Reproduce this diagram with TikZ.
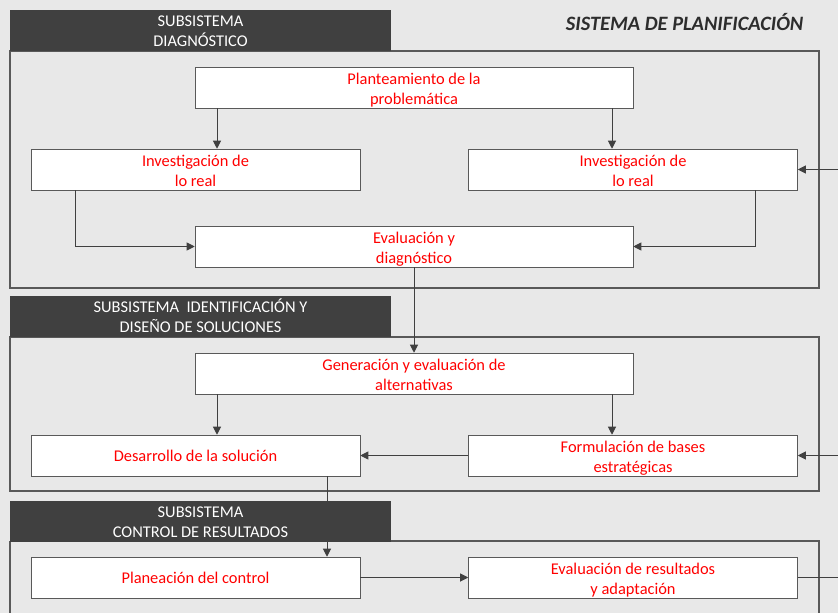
\documentclass[tikz,border=0pt]{standalone}
\usepackage{fontspec}
\setmainfont{Carlito}
\usepackage{tikz}
\usetikzlibrary{arrows.meta, calc}

\definecolor{fondo}{HTML}{E8E8E8}
\definecolor{oscuro}{HTML}{404040}
\definecolor{marco}{HTML}{595959}
\definecolor{rojo}{HTML}{FF0000}

\begin{document}
\begin{tikzpicture}[
      x=0.75pt, y=-0.75pt,
      txt/.style={font=\fontsize{12.3}{15}\selectfont, align=center},
      box/.style={txt, draw=marco, fill=white, text=rojo, minimum width=328.5pt, minimum height=30.75pt, inner sep=0pt},
      wide/.style={box, text height=26.5pt, text depth=0.8pt},
      side/.style={wide, minimum width=246.75pt},
      single/.style={box, minimum width=246.75pt},
      head/.style={txt, fill=oscuro, text=white, minimum width=285.75pt, minimum height=30.75pt, inner sep=0pt,
        text height=25pt, text depth=0.5pt},
      frame/.style={draw=marco, line width=0.8pt},
      arr/.style={-{Triangle[length=6pt,width=6pt]}, draw=oscuro, line width=0.75pt},
      line/.style={draw=oscuro, line width=0.75pt}
    ]

% Background and page size
      \fill[fondo] (0,0) rectangle (838,613);
      \useasboundingbox (0,0) rectangle (838,613);

% Title
      \node[anchor=east, text=oscuro!70!black, font=\fontsize{15.3}{18}\selectfont\bfseries\itshape] (titulo) at (808,22) {SISTEMA DE PLANIFICACIÓN};

% Subsystem frames
      \draw[frame] (10,51) rectangle (819,288);
      \draw[frame] (10,337) rectangle (819,491);
      \draw[frame] (10,541) -- (819,541) -- (819,620);
      \draw[frame] (10,541) -- (10,620);

% Subsystem headers
      \node[head] (hdiag) at (200.5,30.5) {SUBSISTEMA\\DIAGNÓSTICO};
      \node[head] (hsol) at (200.5,316.5) {SUBSISTEMA\ \ IDENTIFICACIÓN Y\\DISEÑO DE SOLUCIONES};
      \node[head] (hctrl) at (200.5,521) {SUBSISTEMA\\CONTROL DE RESULTADOS};

% Diagnostic
      \node[wide] (plant) at (414,87.5) {Planteamiento de la\\problemática};
      \node[side] (invL) at (195.5,169.5) {Investigación de\\lo real};
      \node[side] (invR) at (633,169.5) {Investigación de\\lo real};
      \node[wide] (evald) at (414,246.5) {Evaluación y\\diagnóstico};

% Solutions
      \node[wide] (gen) at (414,373.5) {Generación y evaluación de\\alternativas};
      \node[single] (des) at (195.5,455.5) {Desarrollo de la solución};
      \node[side] (form) at (633,455.5) {Formulación de bases\\estratégicas};

% Control
      \node[single] (plan) at (195.5,577.5) {Planeación del control};
      \node[side] (evalr) at (633,577.5) {Evaluación de resultados\\y adaptación};

% Columns of the vertical links
      \coordinate (xa) at (217,0);
      \coordinate (xb) at (612,0);
      \coordinate (xc) at (75,0);
      \coordinate (xd) at (755,0);
      \coordinate (xe) at (327,0);
      \coordinate (xr) at (840,0);

% Arrows
      \draw[arr] (plant.south -| xa) -- (invL.north -| xa);
      \draw[arr] (plant.south -| xb) -- (invR.north -| xb);
      \draw[arr] (invL.south -| xc) |- (evald.west);
      \draw[arr] (invR.south -| xd) |- (evald.east);
      \draw[arr] (evald) -- (gen);

      \draw[arr] (gen.south -| xa) -- (des.north -| xa);
      \draw[arr] (gen.south -| xb) -- (form.north -| xb);
      \draw[arr] (form) -- (des);
      \draw[arr] (des.south -| xe) -- (plan.north -| xe);

      \draw[arr] (plan) -- (evalr);

% Feedback to the right edge
      \draw[line] (evalr.east) -- (evalr.east -| xr);
      \draw[arr] (invR.east -| xr) -- (invR.east);
      \draw[arr] (form.east -| xr) -- (form.east);
    \end{tikzpicture}
\end{document}
